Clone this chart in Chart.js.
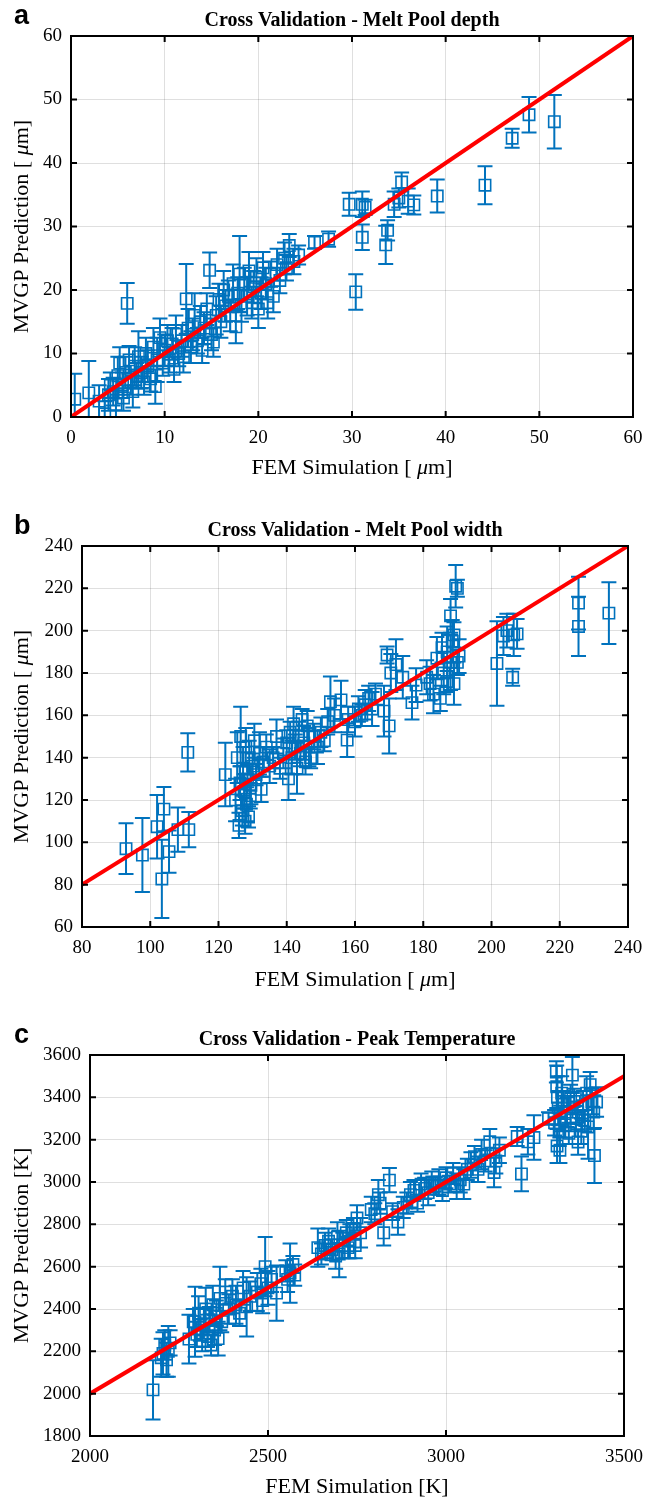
<!DOCTYPE html>
<html>
<head>
<meta charset="utf-8">
<script src="https://cdn.jsdelivr.net/npm/chart.js@4.4.0/dist/chart.umd.min.js"></script>
<style>
  body { margin: 0; background: #fff; width: 655px; height: 1499px; overflow: hidden; position: relative; }
  .panel { position: absolute; left: 0; width: 655px; }
</style>
</head>
<body>
<div class="panel" style="top:0px"><canvas id="chartA" width="655" height="495"></canvas></div>
<div class="panel" style="top:495px"><canvas id="chartB" width="655" height="500"></canvas></div>
<div class="panel" style="top:990px"><canvas id="chartC" width="655" height="509"></canvas></div>
<script>
// ---- panel a: melt pool depth ----
const depthFem = [0.4, 1.9, 3.0, 3.6, 4.0, 4.2, 4.5, 4.8, 5.0, 5.2, 5.5, 5.6, 5.8, 6.0, 6.2, 6.4, 6.6, 6.8, 7.0, 7.2,
  7.5, 7.8, 8.0, 8.2, 8.5, 8.8, 9.0, 9.2, 9.5, 9.8, 10.0, 10.3, 10.5, 10.8, 11.0, 11.2, 11.5, 11.8, 12.0, 12.3,
  12.5, 12.8, 13.0, 13.2, 13.5, 13.8, 14.0, 14.2, 14.5, 14.8, 15.0, 15.2, 15.5, 15.8, 16.0, 16.3, 16.5, 16.8, 17.0, 17.3,
  17.6, 17.8, 18.0, 18.2, 18.5, 18.8, 19.0, 19.3, 19.5, 19.8, 20.0, 20.3, 20.5, 20.8, 21.0, 21.3, 21.6, 22.0, 22.3, 22.8,
  23.0, 23.3, 23.8, 24.3, 26.0, 27.5, 29.7, 30.4, 31.1, 31.1, 31.4, 33.6, 33.8, 34.5, 35.0, 35.3, 36.0, 36.6, 39.1, 44.2,
  47.1, 48.9, 51.6];
const depthPred = [2.8, 3.8, 2.5, 0.5, 3.5, 5.0, 4.0, 2.0, 6.5, 8.5, 5.0, 3.0, 7.0, 17.9, 9.0, 5.5, 4.0, 8.0, 6.5, 9.5,
  7.0, 5.5, 10.0, 8.0, 6.0, 11.0, 4.8, 9.0, 12.5, 8.5, 10.5, 12.0, 9.0, 11.5, 7.5, 13.0, 10.0, 12.0, 9.5, 18.6,
  14.0, 11.0, 13.0, 16.0, 12.0, 15.0, 10.5, 14.0, 17.0, 23.1, 13.0, 11.8, 16.0, 18.5, 15.0, 20.0, 17.5, 19.0, 16.0, 21.0,
  14.2, 19.5, 22.5, 17.5, 21.0, 19.0, 23.0, 18.0, 20.5, 22.0, 17.0, 19.5, 23.5, 21.0, 18.0, 22.5, 19.0, 24.0, 21.5, 25.0,
  23.5, 27.0, 24.5, 25.5, 27.5, 28.0, 33.5, 19.7, 28.3, 33.5, 33.0, 27.1, 29.4, 33.5, 34.5, 37.0, 34.0, 33.4, 34.8, 36.5,
  43.9, 47.6, 46.5];
const depthErr = [4.0, 5.0, 2.5, 2.0, 2.5, 2.0, 2.2, 2.5, 3.0, 2.5, 2.0, 2.0, 2.5, 3.2, 2.2, 2.0, 2.5, 3.0, 2.0, 4.0,
  2.5, 2.0, 2.5, 2.5, 2.0, 3.0, 2.7, 3.5, 3.0, 2.0, 2.5, 2.5, 2.0, 2.5, 2.0, 3.0, 2.0, 2.5, 2.5, 5.5,
  3.0, 2.5, 2.5, 3.5, 2.0, 2.5, 2.0, 2.5, 2.5, 2.8, 2.5, 2.3, 3.0, 2.5, 2.5, 3.0, 2.5, 2.5, 2.5, 3.0,
  2.6, 2.5, 6.0, 2.5, 2.5, 3.0, 3.0, 2.5, 2.5, 3.0, 3.0, 2.5, 2.5, 2.5, 2.5, 2.0, 2.5, 2.5, 2.0, 2.5,
  2.0, 1.8, 2.0, 1.5, 1.0, 1.2, 1.8, 2.8, 2.0, 2.0, 1.2, 3.0, 1.6, 2.0, 1.5, 1.5, 2.0, 1.5, 2.6, 3.0,
  1.5, 2.8, 4.2];
const depthTicks = [0, 10, 20, 30, 40, 50, 60];

// ---- panel b: melt pool width ----
const widthFem = [92.9, 97.7, 102, 103.4, 104, 105.5, 108.1, 111.3, 111, 122,
  125, 125.5, 126, 126.3, 126.5, 127, 127.2, 127.5, 127.8, 128, 128.2, 128.5, 128.8, 129, 129.3, 129.5, 130, 130.5, 131, 132,
  132.5, 133, 134, 135, 136, 137, 138, 139, 140, 140.5, 141, 141.5, 142, 142.5, 143, 143.5, 144, 144.5, 145, 145.5,
  146, 146.5, 147, 148, 149, 150, 151, 152, 152.8, 154, 155.9, 157.7, 158, 160, 161, 162, 163, 164, 165, 166,
  168.5, 169.4, 170, 170.5, 172, 174, 176.7, 177.9, 181, 182, 183, 184, 185, 185.5, 186, 187, 187, 188, 188, 188.5,
  189, 189, 189.5, 190, 190, 190.5, 201.6, 203.5, 204.5, 206.2, 206.5, 207.5, 225.5, 225.5, 234.4];
const widthPred = [97, 94, 107.4, 82.7, 115.7, 95.6, 106, 106, 142.5, 132,
  120, 140, 108, 128, 150, 115, 135, 124, 110, 145, 118, 130, 112, 140, 122, 127, 136, 148, 132, 142,
  125, 138, 145, 136, 140, 150, 135, 142, 147, 130, 152, 140, 156, 145, 135, 150, 142, 158, 147, 138,
  155, 145, 140, 150, 145, 152, 148, 157, 166.4, 160, 167.3, 148.3, 158, 157, 163, 160, 165, 168, 163, 170,
  162, 188.5, 155, 180, 184, 178, 166, 174.3, 178, 175, 170, 187, 168, 192, 180, 176, 190, 185, 207, 195,
  175, 198, 221, 220, 185, 188, 184.5, 197.5, 200, 178, 198, 198.5, 213, 202, 208.3];
const widthErr = [12, 17.5, 15, 18.5, 10.5, 10, 10.5, 8.3, 9, 15,
  10, 12, 6, 8, 14, 7, 10, 8, 6, 9, 8, 7, 5, 8, 6, 9, 6, 8, 5, 10,
  6, 7, 6, 8, 5, 8, 5, 7, 6, 10, 5, 8, 8, 6, 12, 7, 6, 5, 8, 6,
  7, 9, 5, 6, 8, 7, 5, 6, 12, 8, 9, 8, 6, 7, 6, 5, 7, 6, 8, 5,
  12, 4, 13, 9, 12, 10, 8, 8, 8, 8, 9, 10, 6, 7, 10, 5, 12, 13, 8, 10,
  10, 6, 10, 4, 6, 8, 20, 9, 8, 4, 10, 7, 12.5, 14, 14.6];
const widthTicks = [80, 100, 120, 140, 160, 180, 200, 220, 240];

// ---- panel c: peak temperature ----
const tempFem = [2177, 2200, 2205, 2210, 2215, 2220, 2225, 2278, 2290, 2295, 2300, 2305, 2310, 2315, 2320, 2325, 2330, 2335, 2340, 2345,
  2350, 2355, 2360, 2365, 2370, 2380, 2390, 2400, 2410, 2420, 2430, 2440, 2450, 2470, 2480, 2485, 2492, 2500, 2510, 2524,
  2550, 2555, 2562, 2570, 2575, 2640, 2650, 2660, 2670, 2680, 2690, 2695, 2700, 2710, 2720, 2725, 2730, 2740, 2745, 2750,
  2760, 2790, 2800, 2810, 2815, 2825, 2841, 2850, 2865, 2880, 2890, 2900, 2910, 2920, 2930, 2940, 2950, 2960, 2970, 2980,
  2990, 3000, 3010, 3020, 3030, 3040, 3050, 3060, 3070, 3080, 3090, 3100, 3110, 3123, 3135, 3140, 3150, 3200, 3212, 3230,
  3247, 3288, 3305, 3310, 3311, 3312, 3313, 3315, 3318, 3320, 3322, 3325, 3330, 3335, 3340, 3345, 3350, 3355, 3360, 3365,
  3370, 3371, 3380, 3385, 3390, 3395, 3399, 3405, 3410, 3415, 3417, 3423];
const tempPred = [2018, 2170, 2190, 2230, 2160, 2200, 2240, 2258, 2340, 2340, 2280, 2380, 2300, 2250, 2330, 2400, 2270, 2350, 2230, 2420,
  2300, 2380, 2260, 2450, 2340, 2480, 2400, 2460, 2420, 2380, 2500, 2410, 2460, 2480, 2520, 2440, 2600, 2500, 2540, 2475,
  2580, 2540, 2570, 2610, 2560, 2690, 2660, 2700, 2720, 2680, 2650, 2740, 2660, 2700, 2760, 2690, 2720, 2780, 2700, 2830,
  2760, 2870, 2850, 2940, 2900, 2760, 3009, 2860, 2811, 2880, 2900, 2940, 2960, 2900, 2990, 2970, 2950, 3000, 2980, 3000,
  2960, 3020, 2990, 3040, 2980, 3010, 2990, 3060, 3080, 3120, 3060, 3130, 3100, 3190, 3045, 3100, 3150, 3215, 3038, 3190,
  3210, 3300, 3280, 3520, 3450, 3170, 3400, 3350, 3240, 3150, 3300, 3420, 3380, 3270, 3330, 3230, 3400, 3505, 3380, 3300,
  3330, 3189, 3240, 3360, 3290, 3420, 3260, 3460, 3380, 3330, 3125, 3378];
const tempErr = [140, 90, 100, 70, 80, 120, 60, 115, 60, 165, 60, 80, 50, 50, 70, 100, 50, 60, 50, 90,
  70, 60, 80, 150, 50, 60, 70, 80, 90, 60, 80, 140, 70, 90, 70, 60, 140, 80, 60, 130,
  50, 60, 140, 40, 50, 90, 50, 60, 60, 50, 60, 70, 110, 60, 60, 50, 80, 50, 60, 60,
  70, 60, 50, 70, 50, 60, 57, 40, 60, 50, 50, 60, 50, 40, 50, 50, 60, 50, 40, 60,
  50, 50, 40, 50, 60, 60, 70, 50, 60, 50, 60, 70, 50, 60, 70, 60, 60, 45, 82, 60,
  105, 30, 60, 50, 100, 80, 100, 80, 70, 60, 60, 80, 50, 60, 70, 50, 60, 85, 60, 60,
  50, 60, 60, 70, 50, 80, 150, 60, 60, 80, 130, 70];
const tempXTicks = [2000, 2500, 3000, 3500];
const tempYTicks = [1800, 2000, 2200, 2400, 2600, 2800, 3000, 3200, 3400, 3600];

const blue = "#0072BD";
const serif = "'Liberation Serif', 'Times New Roman', serif";
const gridColor = "rgba(38,38,38,0.15)";
// axis labels: [text, italic] pieces, the mu is set in italics as in the figure
const umX = [["FEM Simulation [ ", false], ["\u03BC", true], ["m]", false]];
const umY = [["MVGP Prediction [ ", false], ["\u03BC", true], ["m]", false]];
const kX = [["FEM Simulation [K]", false]];
const kY = [["MVGP Prediction [K]", false]];

// vertical error bars with caps, placed through the chart's scales
const errorBars = {
  id: "errorBars",
  beforeDatasetsDraw(chart) {
    const ctx = chart.ctx;
    const ys = chart.scales.y;
    const area = chart.chartArea;
    ctx.save();
    ctx.beginPath();
    ctx.rect(area.left, area.top, area.right - area.left, area.bottom - area.top);
    ctx.clip();
    ctx.strokeStyle = blue;
    ctx.lineWidth = 2;
    chart.data.datasets.forEach((ds, i) => {
      if (!ds.errors) return;
      const meta = chart.getDatasetMeta(i);
      meta.data.forEach((pt, j) => {
        const v = ds.data[j].y;
        const top = ys.getPixelForValue(v + ds.errors[j]);
        const bot = ys.getPixelForValue(v - ds.errors[j]);
        ctx.beginPath();
        ctx.moveTo(pt.x, top); ctx.lineTo(pt.x, bot);
        ctx.moveTo(pt.x - 7.5, top); ctx.lineTo(pt.x + 7.5, top);
        ctx.moveTo(pt.x - 7.5, bot); ctx.lineTo(pt.x + 7.5, bot);
        ctx.stroke();
      });
    });
    ctx.restore();
  }
};

function drawPieces(ctx, pieces, cx, cy) {
  const fonts = pieces.map(p => (p[1] ? "italic " : "") + "22px " + serif);
  let total = 0;
  const widths = pieces.map((p, i) => { ctx.font = fonts[i]; const w = ctx.measureText(p[0]).width; total += w; return w; });
  let x = cx - total / 2;
  ctx.textAlign = "left";
  ctx.textBaseline = "middle";
  pieces.forEach((p, i) => { ctx.font = fonts[i]; ctx.fillText(p[0], x, cy); x += widths[i]; });
}

// box, inward ticks, titles and panel letter
const frame = {
  id: "frame",
  afterDraw(chart, args, opts) {
    const ctx = chart.ctx;
    const a = chart.chartArea;
    const xs = chart.scales.x, ys = chart.scales.y;
    ctx.save();
    ctx.strokeStyle = "#000";
    ctx.lineWidth = 2;
    ctx.strokeRect(a.left, a.top, a.right - a.left, a.bottom - a.top);
    ctx.beginPath();
    xs.ticks.forEach(t => {
      const px = xs.getPixelForValue(t.value);
      ctx.moveTo(px, a.bottom); ctx.lineTo(px, a.bottom - 6);
      ctx.moveTo(px, a.top); ctx.lineTo(px, a.top + 6);
    });
    ys.ticks.forEach(t => {
      const py = ys.getPixelForValue(t.value);
      ctx.moveTo(a.left, py); ctx.lineTo(a.left + 6, py);
      ctx.moveTo(a.right, py); ctx.lineTo(a.right - 6, py);
    });
    ctx.stroke();
    ctx.fillStyle = "#000";
    ctx.textAlign = "center";
    ctx.textBaseline = "middle";
    ctx.font = "bold 20px " + serif;
    ctx.fillText(opts.title, (a.left + a.right) / 2, a.top - 15);
    ctx.textAlign = "left";
    ctx.textBaseline = "alphabetic";
    ctx.font = "bold 27px 'Liberation Sans', Arial, sans-serif";
    ctx.fillText(opts.letter, 14, a.top - 12);
    drawPieces(ctx, opts.xTitle, (a.left + a.right) / 2, a.bottom + opts.xTitleGap);
    ctx.save();
    ctx.translate(22, (a.top + a.bottom) / 2);
    ctx.rotate(-Math.PI / 2);
    drawPieces(ctx, opts.yTitle, 0, 0);
    ctx.restore();
    ctx.restore();
  }
};

function makeChart(id, p) {
  const canvas = document.getElementById(id);
  const H = canvas.height;
  const points = p.fem.map((x, i) => ({ x: x, y: p.pred[i] }));
  return new Chart(canvas, {
    type: "scatter",
    data: {
      datasets: [
        {
          type: "line",
          data: [{ x: p.line[0], y: p.line[0] }, { x: p.line[1], y: p.line[1] }],
          borderColor: "#FF0000",
          borderWidth: 4,
          pointRadius: 0,
          order: 0
        },
        {
          data: points,
          errors: p.err,
          pointStyle: "rect",
          pointRadius: 8,
          borderColor: blue,
          backgroundColor: "rgba(0,0,0,0)",
          borderWidth: 1.6,
          order: 1
        }
      ]
    },
    options: {
      responsive: false,
      animation: false,
      events: [],
      layout: { padding: { left: 0, top: p.box.t, right: 655 - p.box.r, bottom: 0 } },
      plugins: {
        legend: { display: false },
        tooltip: { enabled: false },
        title: { display: false },
        frame: { title: p.title, letter: p.letter, xTitle: p.xTitle, yTitle: p.yTitle, xTitleGap: p.xTitleGap }
      },
      scales: {
        x: {
          type: "linear",
          min: p.xTicks[0],
          max: p.xTicks[p.xTicks.length - 1],
          afterBuildTicks: s => { s.ticks = p.xTicks.map(v => ({ value: v })); },
          afterFit: s => { s.height = H - p.box.b; },
          ticks: { font: { family: serif, size: 19 }, color: "#000", padding: 10, maxRotation: 0, autoSkip: false, callback: v => String(v) },
          grid: { color: gridColor, lineWidth: 1, drawTicks: false },
          border: { display: false }
        },
        y: {
          type: "linear",
          min: p.yTicks[0],
          max: p.yTicks[p.yTicks.length - 1],
          afterBuildTicks: s => { s.ticks = p.yTicks.map(v => ({ value: v })); },
          afterFit: s => { s.width = p.box.l; },
          ticks: { font: { family: serif, size: 19 }, color: "#000", padding: 9, autoSkip: false, callback: v => String(v) },
          grid: { color: gridColor, lineWidth: 1, drawTicks: false },
          border: { display: false }
        }
      }
    },
    plugins: [errorBars, frame]
  });
}

makeChart("chartA", {
  fem: depthFem, pred: depthPred, err: depthErr, line: [0, 60],
  xTicks: depthTicks, yTicks: depthTicks,
  box: { l: 71, r: 633, t: 36, b: 417 }, xTitleGap: 51,
  title: "Cross Validation - Melt Pool depth", letter: "a",
  xTitle: umX, yTitle: umY
});
makeChart("chartB", {
  fem: widthFem, pred: widthPred, err: widthErr, line: [80, 240],
  xTicks: widthTicks, yTicks: [60].concat(widthTicks),
  box: { l: 82, r: 628, t: 51, b: 432 }, xTitleGap: 53,
  title: "Cross Validation - Melt Pool width", letter: "b",
  xTitle: umX, yTitle: umY
});
makeChart("chartC", {
  fem: tempFem, pred: tempPred, err: tempErr, line: [2000, 3500],
  xTicks: tempXTicks, yTicks: tempYTicks,
  box: { l: 90, r: 624, t: 65, b: 446 }, xTitleGap: 51,
  title: "Cross Validation - Peak Temperature", letter: "c",
  xTitle: kX, yTitle: kY
});
</script>
</body>
</html>
